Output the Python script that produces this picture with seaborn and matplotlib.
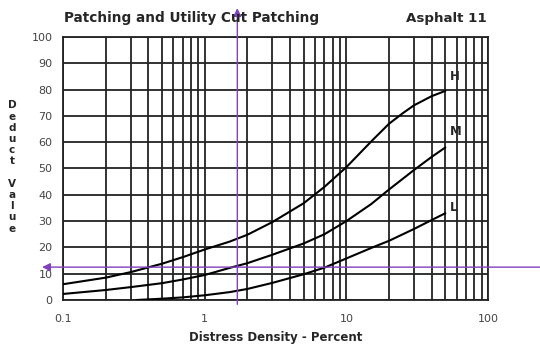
import matplotlib
matplotlib.use("Agg")
import matplotlib.pyplot as plt
import numpy as np
import pandas as pd
import seaborn as sns

# values (density %, deduct value)
density_h = [0.1, 0.2, 0.3, 0.5, 0.7, 1, 1.5, 2, 3, 5, 7, 10, 15, 20, 25, 30, 40, 50]
deduct_h = [6, 8.5, 10.6, 13.8, 16.3, 19.2, 22.2, 24.8, 29.6, 36.8, 43, 50.5, 60.3, 67, 71, 74, 77.5, 79.5]

density_m = [0.1, 0.2, 0.3, 0.5, 0.7, 1, 1.5, 2, 3, 5, 7, 10, 15, 20, 30, 40, 50]
deduct_m = [2.3, 3.8, 4.9, 6.4, 7.8, 9.5, 12.2, 14, 17.2, 21.5, 25, 30, 36.5, 42, 49.4, 54.4, 58]

density_l = [0.33, 0.5, 0.7, 1, 1.5, 2, 3, 5, 7, 10, 15, 20, 30, 40, 50]
deduct_l = [0, 0.5, 1, 1.8, 3, 4.2, 6.5, 9.8, 12.3, 15.8, 19.8, 22.5, 27, 30.4, 33]

severity_labels = ["H", "M", "L"]
label_pos = [(54, 85), (54, 64), (54, 35)]

x_ticks = [0.1, 1, 10, 100]
x_ticklabels = ["0.1", "1", "10", "100"]
y_ticks = list(range(0, 101, 10))

# example reading shown with purple arrows
read_density = 1.7
read_deduct = 12.5

df = pd.concat([
    pd.DataFrame({"density": density_h, "deduct": deduct_h, "sev": "H"}),
    pd.DataFrame({"density": density_m, "deduct": deduct_m, "sev": "M"}),
    pd.DataFrame({"density": density_l, "deduct": deduct_l, "sev": "L"}),
])

sns.set_style("white")
plt.rcParams["font.family"] = ["DejaVu Sans"]

fig = plt.figure(figsize=(5.4, 3.45), dpi=100)
ax = fig.add_axes([0.1167, 0.1304, 0.787, 0.7624])

ax.set_xscale("log")
ax.set_xlim(0.1, 100)
ax.set_ylim(0, 100)

# log grid: every 1..9 within each decade, every 10 on y
grid_x = [m * d for d in [0.1, 1, 10] for m in range(1, 10)] + [100]
for v in grid_x:
    ax.axvline(v, color="#222222", lw=1.3, zorder=1)
for v in y_ticks:
    ax.axhline(v, color="#222222", lw=1.3, zorder=1)

sns.lineplot(data=df, x="density", y="deduct", hue="sev", units="sev",
             estimator=None, palette=["black"] * 3, lw=1.5, legend=False,
             ax=ax, zorder=3, sort=False)

for lab, (x, y) in zip(severity_labels, label_pos):
    ax.text(x, y, lab, fontsize=8.5, fontweight="bold", ha="left", va="center")

ax.set_xticks(x_ticks)
ax.set_xticklabels(x_ticklabels)
ax.xaxis.set_minor_locator(matplotlib.ticker.NullLocator())
ax.set_yticks(y_ticks)
ax.tick_params(axis="both", labelsize=8, colors="#444444", length=4, width=1)
ax.tick_params(axis="x", length=0, pad=10)
for s in ax.spines.values():
    s.set_color("#222222")
    s.set_linewidth(1.3)

ax.set_xlabel("Distress Density - Percent", fontsize=8.5, fontweight="bold",
              labelpad=5)
ax.set_ylabel("")

fig.text(0.118, 0.947, "Patching and Utility Cut Patching", fontsize=9.8,
         fontweight="bold", ha="left", va="center")
fig.text(0.902, 0.947, "Asphalt 11", fontsize=9.6, fontweight="bold",
         ha="right", va="center")
fig.text(0.022, 0.516, "D\ne\nd\nu\nc\nt\n\nV\na\nl\nu\ne", fontsize=7.5,
         fontweight="bold", ha="center", va="center", linespacing=1.15)

purple = "#8040c0"
ax.annotate("", xy=(read_density, 112), xytext=(read_density, -2.7),
            annotation_clip=False,
            arrowprops=dict(arrowstyle="-|>", color=purple, lw=1,
                            mutation_scale=12))
ax.annotate("", xy=(0.068, read_deduct), xytext=(300, read_deduct),
            annotation_clip=False,
            arrowprops=dict(arrowstyle="-|>", color=purple, lw=1,
                            mutation_scale=12))

fig.savefig("out.png", dpi=100)
